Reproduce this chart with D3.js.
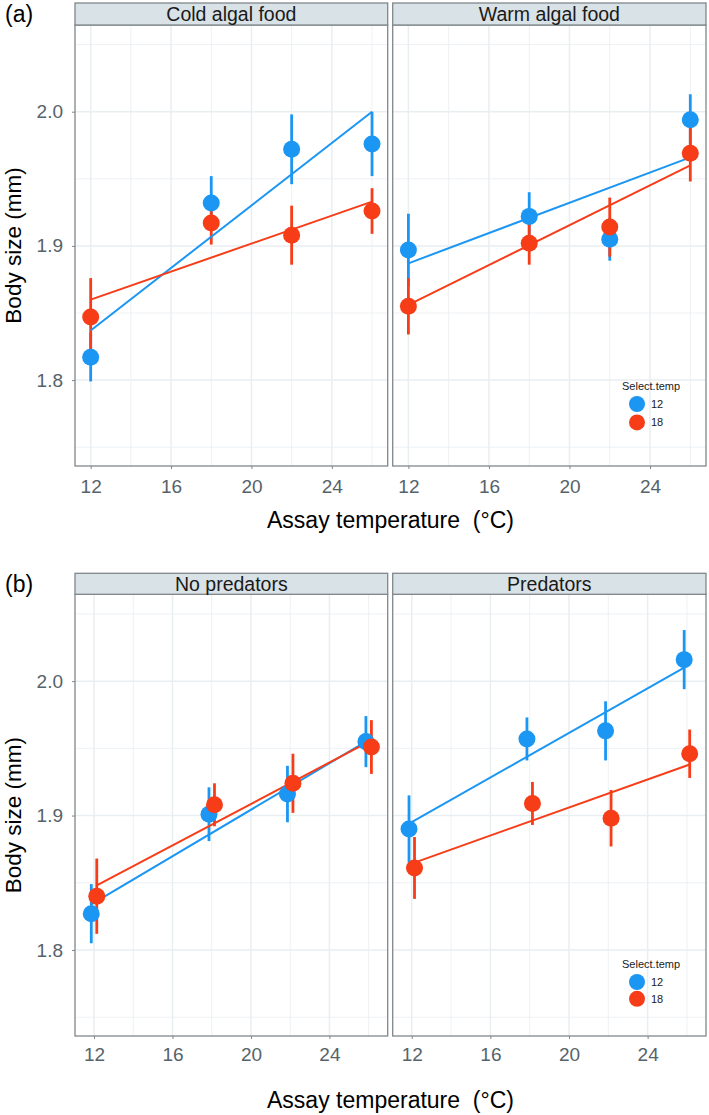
<!DOCTYPE html>
<html>
<head>
<meta charset="utf-8">
<script src="https://cdn.jsdelivr.net/npm/d3@7"></script>
<style>
  body { margin: 0; background: #fff; }
  svg text { font-family: "Liberation Sans", Arial, sans-serif; }
</style>
</head>
<body>
<svg id="chart" width="709" height="1115"></svg>
<script>
//data
const assayTemps = [12, 18, 22, 26];
const fitTemps = [12, 26];
const selectTemps = ['12', '18'];
const xTicks = [12, 16, 20, 24];
const xMinor = [14, 18, 22, 26];
const yTicks = [1.8, 1.9, 2.0];
const yMinor = [1.75, 1.85, 1.95, 2.05];

// (a) cold algal food
const cold12 = [1.817, 1.932, 1.972, 1.976];
const cold12Err = [0.018, 0.020, 0.026, 0.024];
const cold18 = [1.847, 1.917, 1.908, 1.926];
const cold18Err = [0.029, 0.016, 0.022, 0.017];
const cold12Fit = [1.837, 2.000];
const cold18Fit = [1.860, 1.933];

// (a) warm algal food
const warm12 = [1.897, 1.922, 1.905, 1.994];
const warm12Err = [0.027, 0.018, 0.016, 0.019];
const warm18 = [1.855, 1.902, 1.914, 1.969];
const warm18Err = [0.021, 0.016, 0.022, 0.021];
const warm12Fit = [1.887, 1.966];
const warm18Fit = [1.856, 1.960];

// (b) no predators
const noPred12 = [1.827, 1.901, 1.916, 1.955];
const noPred12Err = [0.022, 0.020, 0.021, 0.019];
const noPred18 = [1.840, 1.908, 1.924, 1.951];
const noPred18Err = [0.028, 0.016, 0.022, 0.020];
const noPred12Fit = [1.834, 1.955];
const noPred18Fit = [1.848, 1.956];

// (b) predators
const pred12 = [1.890, 1.957, 1.963, 2.016];
const pred12Err = [0.025, 0.016, 0.022, 0.022];
const pred18 = [1.861, 1.909, 1.898, 1.946];
const pred18Err = [0.023, 0.016, 0.021, 0.018];
const pred12Fit = [1.894, 2.010];
const pred18Fit = [1.865, 1.938];

//style
const colors = { '12': '#1b96f3', '18': '#f63d18' };
const gridCol = '#e9eef1';
const borderCol = '#80878b';
const tickTextCol = '#56636a';
const FONT = '"Liberation Sans", Arial, sans-serif';

const svg = d3.select('#chart');

const figures = [
  {
    label: '(a)', labelY: 22, top: 25, bottom: 466, stripH: 22, xDomain: [11.22, 26.78], dodge: 0,
    xPad: 11, titleY: 528,
    legend: { x: 622, y: 386, gap: 18.4 },
    facets: [
      { name: 'Cold algal food', s12: cold12, e12: cold12Err, s18: cold18, e18: cold18Err, f12: cold12Fit, f18: cold18Fit },
      { name: 'Warm algal food', s12: warm12, e12: warm12Err, s18: warm18, e18: warm18Err, f12: warm12Fit, f18: warm18Fit }
    ]
  },
  {
    label: '(b)', labelY: 592, top: 594.3, bottom: 1036, stripH: 21, xDomain: [11.03, 26.97], dodge: 0.14,
    xPad: 9, titleY: 1108,
    legend: { x: 622, y: 964, gap: 16.8 },
    facets: [
      { name: 'No predators', s12: noPred12, e12: noPred12Err, s18: noPred18, e18: noPred18Err, f12: noPred12Fit, f18: noPred18Fit },
      { name: 'Predators', s12: pred12, e12: pred12Err, s18: pred18, e18: pred18Err, f12: pred12Fit, f18: pred18Fit }
    ]
  }
];

const facetX = [[75, 387.7], [392.7, 706]];

figures.forEach(fig => {
  const y = d3.scaleLinear().domain([1.736, 2.0646]).range([fig.bottom, fig.top]);

  fig.facets.forEach((facet, fi) => {
    const [x0, x1] = facetX[fi];
    const x = d3.scaleLinear().domain(fig.xDomain).range([x0, x1]);
    const g = svg.append('g');

    // panel + grid
    g.append('rect').attr('x', x0).attr('y', fig.top)
      .attr('width', x1 - x0).attr('height', fig.bottom - fig.top).attr('fill', '#fff');

    g.selectAll('.gx-minor').data(xMinor).join('line')
      .attr('x1', d => x(d)).attr('x2', d => x(d))
      .attr('y1', fig.top).attr('y2', fig.bottom)
      .attr('stroke', gridCol).attr('stroke-width', 0.8);
    g.selectAll('.gy-minor').data(yMinor).join('line')
      .attr('y1', d => y(d)).attr('y2', d => y(d))
      .attr('x1', x0).attr('x2', x1)
      .attr('stroke', gridCol).attr('stroke-width', 0.8);
    g.selectAll('.gx').data(xTicks).join('line')
      .attr('x1', d => x(d)).attr('x2', d => x(d))
      .attr('y1', fig.top).attr('y2', fig.bottom)
      .attr('stroke', gridCol).attr('stroke-width', 1.5);
    g.selectAll('.gy').data(yTicks).join('line')
      .attr('y1', d => y(d)).attr('y2', d => y(d))
      .attr('x1', x0).attr('x2', x1)
      .attr('stroke', gridCol).attr('stroke-width', 1.5);

    const series = [
      { key: '12', vals: facet.s12, err: facet.e12, fit: facet.f12, off: -fig.dodge },
      { key: '18', vals: facet.s18, err: facet.e18, fit: facet.f18, off: fig.dodge }
    ];

    const line = d3.line().x(d => d[0]).y(d => d[1]);

    // error bars
    series.forEach(s => {
      g.selectAll(null).data(assayTemps).join('line')
        .attr('x1', d => x(d + s.off)).attr('x2', d => x(d + s.off))
        .attr('y1', (d, i) => y(s.vals[i] - s.err[i]))
        .attr('y2', (d, i) => y(s.vals[i] + s.err[i]))
        .attr('stroke', colors[s.key]).attr('stroke-width', 2.8);
    });
    // fitted lines
    series.forEach(s => {
      g.append('path')
        .datum(fitTemps.map((t, i) => [x(t + s.off), y(s.fit[i])]))
        .attr('fill', 'none').attr('stroke', colors[s.key]).attr('stroke-width', 2)
        .attr('d', line);
    });
    // means
    series.forEach(s => {
      g.selectAll(null).data(assayTemps).join('circle')
        .attr('cx', d => x(d + s.off))
        .attr('cy', (d, i) => y(s.vals[i]))
        .attr('r', 8.5)
        .attr('fill', colors[s.key]);
    });

    // border
    g.append('rect').attr('x', x0).attr('y', fig.top)
      .attr('width', x1 - x0).attr('height', fig.bottom - fig.top)
      .attr('fill', 'none').attr('stroke', borderCol).attr('stroke-width', 1.3);

    // strip
    const stripTop = fig.top - fig.stripH;
    g.append('rect').attr('x', x0).attr('y', stripTop)
      .attr('width', x1 - x0).attr('height', fig.stripH)
      .attr('fill', '#d9e2e6').attr('stroke', borderCol).attr('stroke-width', 1.3);
    g.append('text')
      .attr('x', (x0 + x1) / 2).attr('y', stripTop + fig.stripH / 2)
      .attr('dy', '0.36em').attr('text-anchor', 'middle')
      .attr('font-size', 19.5).attr('fill', '#1a1a1a')
      .text(facet.name);

    // x axis
    const xAxis = d3.axisBottom(x).tickValues(xTicks).tickSize(3).tickPadding(fig.xPad);
    const ax = g.append('g').attr('transform', `translate(0,${fig.bottom})`).call(xAxis);
    ax.select('.domain').remove();
    ax.selectAll('.tick line').attr('stroke', borderCol);
    ax.selectAll('.tick text').attr('font-size', 19).attr('fill', tickTextCol)
      .attr('font-family', FONT);

    // y axis on left facet only
    if (fi === 0) {
      const yAxis = d3.axisLeft(y).tickValues(yTicks).tickFormat(d3.format('.1f')).tickSize(3).tickPadding(9);
      const ay = g.append('g').attr('transform', `translate(${x0},0)`).call(yAxis);
      ay.select('.domain').remove();
      ay.selectAll('.tick line').attr('stroke', borderCol);
      ay.selectAll('.tick text').attr('font-size', 19).attr('fill', tickTextCol)
        .attr('font-family', FONT);
    }
  });

  // titles
  svg.append('text')
    .attr('x', 390.5).attr('y', fig.titleY)
    .attr('text-anchor', 'middle')
    .attr('font-size', 23).attr('fill', '#000')
    .style('white-space', 'pre')
    .text('Assay temperature  (\u00B0C)');

  svg.append('text')
    .attr('transform', `translate(13,${(fig.top + fig.bottom) / 2}) rotate(-90)`)
    .attr('dy', '0.36em').attr('text-anchor', 'middle')
    .attr('font-size', 22.5).attr('fill', '#000')
    .text('Body size (mm)');

  svg.append('text')
    .attr('x', 5).attr('y', fig.labelY)
    .attr('font-size', 23).attr('fill', '#000')
    .text(fig.label);

  // legend
  const lg = svg.append('g');
  lg.append('text').attr('x', fig.legend.x).attr('y', fig.legend.y)
    .attr('dy', '0.36em').attr('font-size', 11).attr('fill', '#1a1a1a')
    .text('Select.temp');
  lg.selectAll('circle').data(selectTemps).join('circle')
    .attr('cx', fig.legend.x + 15)
    .attr('cy', (d, i) => fig.legend.y + 18 + i * fig.legend.gap)
    .attr('r', 8).attr('fill', d => colors[d]);
  lg.selectAll('.lab').data(selectTemps).join('text')
    .attr('x', fig.legend.x + 29)
    .attr('y', (d, i) => fig.legend.y + 18 + i * fig.legend.gap)
    .attr('dy', '0.36em').attr('font-size', 11).attr('fill', '#1a1a1a')
    .text(d => d);
});
</script>
</body>
</html>
